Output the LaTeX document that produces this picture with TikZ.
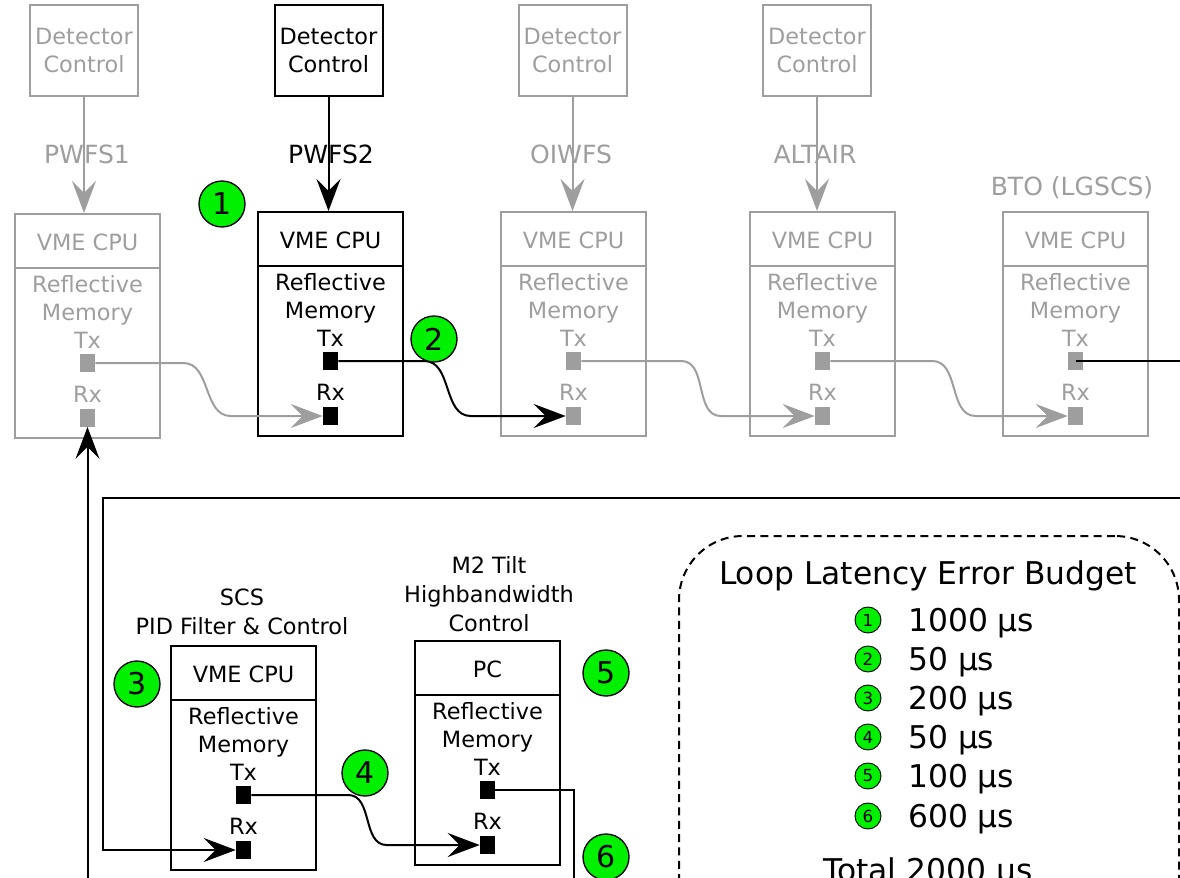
\documentclass[tikz,border=0pt]{standalone}
\usepackage{fontspec}
\setmainfont{DejaVu Sans}
\usetikzlibrary{arrows.meta,calc}
\definecolor{lg}{RGB}{158,158,158}
\definecolor{bgreen}{RGB}{0,240,0}
\tikzset{
  detbox/.style={draw=black, line width=1.5pt, minimum width=81pt, minimum height=68.25pt,
    align=center, inner sep=0pt, font=\fontsize{16.8}{21}\selectfont},
  vbox/.style={draw=black, line width=1.5pt, minimum width=108.75pt, minimum height=168pt,
    inner sep=0pt, anchor=north west},
  txt/.style={anchor=base, inner sep=0pt, font=\fontsize{16.8}{21}\selectfont},
  lbl/.style={anchor=base, inner sep=0pt, font=\fontsize{18.8}{23}\selectfont},
  sq/.style={fill=black, minimum width=11.25pt, minimum height=13pt, inner sep=0pt},
  arr/.style={-{Stealth[length=24pt,width=18pt,inset=9pt]}},
  conk/.style={line width=1.5pt, draw=black},
  cong/.style={line width=1.5pt, draw=lg},
  badge/.style={circle, draw=black, line width=1pt, fill=bgreen, minimum size=34.5pt,
    inner sep=0pt, font=\fontsize{22.5}{26}\selectfont},
  sbadge/.style={circle, draw=black, line width=0.7pt, fill=bgreen, minimum size=19.5pt,
    inner sep=0pt, font=\fontsize{12.5}{14}\selectfont},
  legt/.style={inner sep=0pt, font=\fontsize{23.5}{28}\selectfont},
  legbox/.style={draw=black, line width=1.5pt, dash pattern=on 6pt off 4pt,
    rounded corners=48pt, minimum width=375pt, minimum height=320pt, anchor=north west, inner sep=0pt},
}
\newcommand{\vmebox}[5]{%
  \node[vbox, draw=#4] (#1) at (#2,#3) {};
  \draw[draw=#4, line width=1.5pt] ($(#1.north west)+(0,55)$) -- ($(#1.north east)+(0,55)$);
  \node[txt, text=#4] (#1h) at ($(#1.north)+(0,37)$) {#5};
  \node[txt, text=#4] (#1r) at ($(#1.north)+(0,79)$) {Reflective};
  \node[txt, text=#4] (#1m) at ($(#1.north)+(0,107)$) {Memory};
  \node[txt, text=#4] (#1tl) at ($(#1.north)+(0,135)$) {Tx};
  \node[sq, fill=#4] (#1tx) at ($(#1.north)+(0,150)$) {};
  \node[txt, text=#4] (#1rl) at ($(#1.north)+(0,189)$) {Rx};
  \node[sq, fill=#4] (#1rx) at ($(#1.north)+(0,205)$) {};
}
\begin{document}
\begin{tikzpicture}[x=0.75pt,y=-0.75pt]
\useasboundingbox (0,0) rectangle (1180,877);
\clip (0,0) rectangle (1180,877);

% detector control boxes
\node[detbox, draw=lg, text=lg] (d1) at (84,50.5) {Detector\\Control};
\node[detbox] (d2) at (328.5,50.5) {Detector\\Control};
\node[detbox, draw=lg, text=lg] (d3) at (572.5,50.5) {Detector\\Control};
\node[detbox, draw=lg, text=lg] (d4) at (817,50.5) {Detector\\Control};

% VME boxes (top row)
\vmebox{b1}{14}{213}{lg}{VME CPU}
\vmebox{b2}{257}{211}{black}{VME CPU}
\vmebox{b3}{500}{211}{lg}{VME CPU}
\vmebox{b4}{749}{211}{lg}{VME CPU}
\vmebox{b5}{1002}{211}{lg}{VME CPU}

% detector -> VME arrows
\draw[cong, arr] (d1.south) -- (d1.south |- b1.north);
\draw[conk, arr] (d2.south) -- (d2.south |- b2.north);
\draw[cong, arr] (d3.south) -- (d3.south |- b3.north);
\draw[cong, arr] (d4.south) -- (d4.south |- b4.north);

% labels
\node[lbl, text=lg] (l1) at (87,164) {PWFS1};
\node[lbl] (l2) at (331,164) {PWFS2};
\node[lbl, text=lg] (l3) at (571,164) {OIWFS};
\node[lbl, text=lg] (l4) at (815,164) {ALTAIR};
\node[lbl, text=lg] (l5) at (1072,196) {BTO (LGSCS)};

% lower boxes
\vmebox{scs}{170}{645}{black}{VME CPU}
\vmebox{mt}{414}{640}{black}{PC}
\node[txt] (st1) at (242,605) {SCS};
\node[txt] (st2) at (242,634) {PID Filter \& Control};
\node[txt] (mt1) at (489,573) {M2 Tilt};
\node[txt] (mt2) at (489,602) {Highbandwidth};
\node[txt] (mt3) at (489,631) {Control};

% ring connectors (top)
\draw[cong, arr] (b1tx.east) -- ++(88,0) to[out=0,in=180] ($(b2rx.west)+(-92,0)$) -- (b2rx.west);
\draw[conk, arr] (b2tx.east) -- ++(86,0) to[out=0,in=180] ($(b3rx.west)+(-95,0)$) -- (b3rx.west);
\draw[cong, arr] (b3tx.east) -- ++(100,0) to[out=0,in=180] ($(b4rx.west)+(-94,0)$) -- (b4rx.west);
\draw[cong, arr] (b4tx.east) -- ++(102,0) to[out=0,in=180] ($(b5rx.west)+(-92,0)$) -- (b5rx.west);

\coordinate (eR1) at (1200,361);
\draw[conk] (b5tx.center) -- (eR1);

% loop to SCS
\coordinate (eR2) at (1200,498);
\coordinate (lc) at (103,498);
\draw[conk, arr] (eR2) -- (lc) |- (scsrx.west);

% SCS -> M2
\draw[conk, arr] (scstx.east) -- ++(97,0) to[out=0,in=180] ($(mtrx.west)+(-93,0)$) -- (mtrx.west);

% M2 out
\coordinate (eB1) at (574,900);
\draw[conk] (mttx.east) -| (eB1);

% return to PWFS1
\coordinate (eB2) at (85,900);
\draw[conk, arr] (b1rx.south |- eB2) -- (b1rx.south);

% badges
\node[badge] (n1) at (222,204) {1};
\node[badge] (n2) at (434,339) {2};
\node[badge] (n3) at (137,684) {3};
\node[badge] (n4) at (365,773) {4};
\node[badge] (n5) at (606,673) {5};
\node[badge] (n6) at (606,857) {6};

% legend
\node[legbox] (leg) at (678,535) {};
\node[legt, anchor=base] (lt) at (928,584) {Loop Latency Error Budget};
\foreach \i/\y/\v in {1/620/1000,2/659/50,3/698/200,4/737/50,5/776/100,6/816/600}{
  \node[sbadge] (s\i) at (868,\y) {\i};
  \node[legt, anchor=base west] (v\i) at (908,\y+11) {\v\ µs};
}
\node[legt, anchor=base] (tot) at (928,881) {Total 2000 µs};
\end{tikzpicture}
\end{document}
